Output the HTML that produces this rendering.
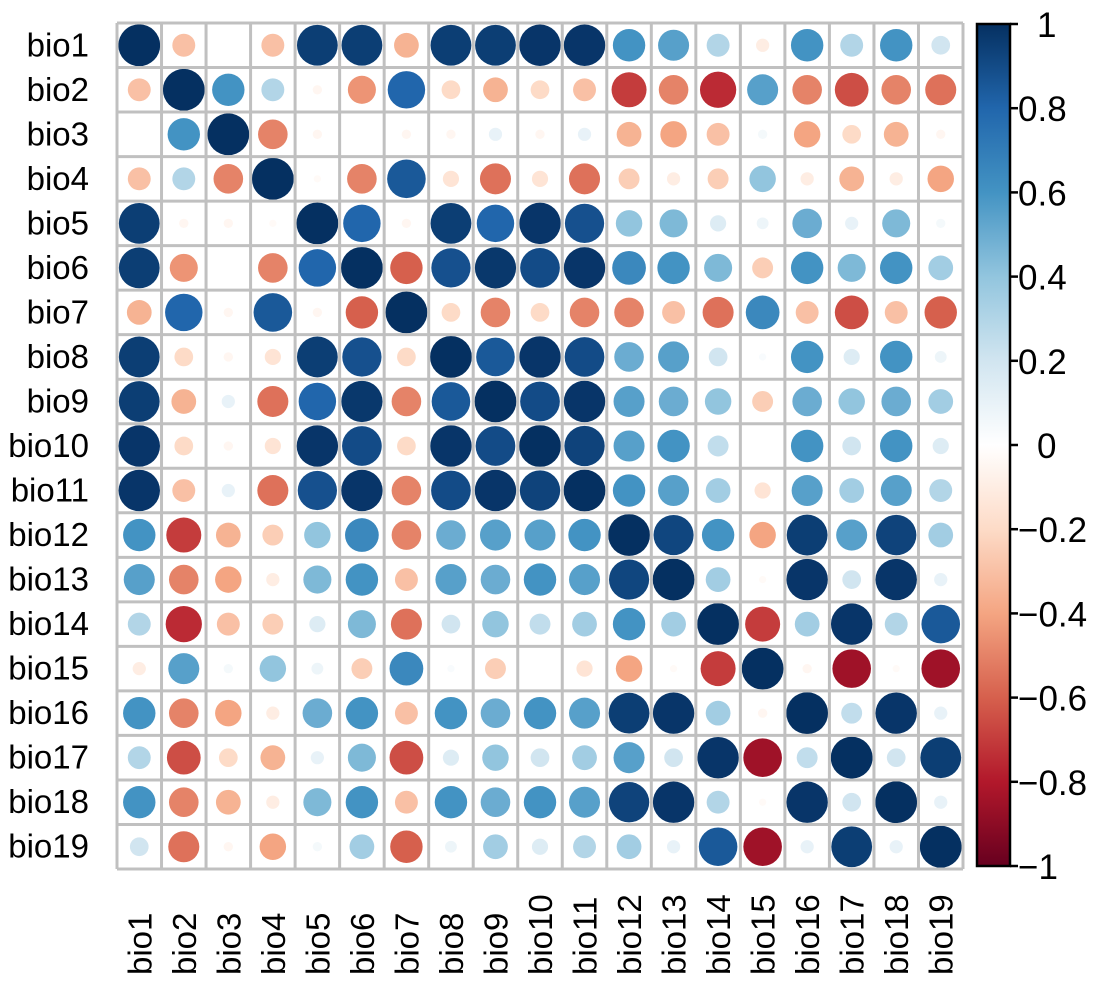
<!DOCTYPE html>
<html><head><meta charset="utf-8"><style>
body{margin:0;background:#fff;}
svg{display:block;font-family:"Liberation Sans",Arial,sans-serif;}
</style></head><body>
<svg id="chart" width="1098" height="987"></svg>
<script>
const labels=["bio1","bio2","bio3","bio4","bio5","bio6","bio7","bio8","bio9","bio10","bio11","bio12","bio13","bio14","bio15","bio16","bio17","bio18","bio19"];
const upper=[
[1,-0.3,0,-0.3,0.95,0.95,-0.35,0.95,0.95,0.98,0.98,0.6,0.55,0.3,-0.1,0.6,0.3,0.6,0.2],
[1,0.6,0.3,-0.05,-0.45,0.8,-0.2,-0.35,-0.2,-0.3,-0.7,-0.5,-0.75,0.55,-0.5,-0.65,-0.5,-0.55],
[1,-0.5,-0.05,0,-0.05,-0.05,0.1,-0.05,0.1,-0.35,-0.4,-0.3,0.05,-0.4,-0.2,-0.35,-0.05],
[1,-0.03,-0.5,0.85,-0.15,-0.55,-0.15,-0.55,-0.25,-0.1,-0.25,0.4,-0.1,-0.35,-0.1,-0.4],
[1,0.8,-0.05,0.95,0.8,0.98,0.88,0.4,0.45,0.15,0.08,0.5,0.1,0.45,0.05],
[1,-0.6,0.88,0.97,0.9,0.98,0.65,0.6,0.45,-0.25,0.6,0.45,0.6,0.35],
[1,-0.2,-0.5,-0.2,-0.5,-0.5,-0.3,-0.55,0.65,-0.3,-0.65,-0.3,-0.6],
[1,0.85,0.98,0.9,0.5,0.55,0.2,0.03,0.6,0.15,0.6,0.08],
[1,0.9,0.98,0.55,0.5,0.4,-0.25,0.5,0.4,0.5,0.35],
[1,0.93,0.55,0.6,0.25,0,0.6,0.2,0.6,0.15],
[1,0.6,0.55,0.35,-0.15,0.55,0.35,0.55,0.3],
[1,0.92,0.6,-0.4,0.95,0.55,0.93,0.35],
[1,0.35,-0.03,0.98,0.2,0.98,0.1],
[1,-0.7,0.35,0.98,0.3,0.85],
[1,-0.05,-0.85,-0.03,-0.85],
[1,0.25,0.98,0.1],
[1,0.2,0.95],
[1,0.1],
[1]];
const ticks=[1,0.8,0.6,0.4,0.2,0,-0.2,-0.4,-0.6,-0.8,-1];
const tickText=["1","0.8","0.6","0.4","0.2","0","\u22120.2","\u22120.4","\u22120.6","\u22120.8","\u22121"];

const NS="http://www.w3.org/2000/svg";
const svg=document.getElementById('chart');
const n=labels.length, gx0=117, gy0=23, cell=(963-117)/19;
const stops=[[-1,"#67001F"],[-0.8,"#B2182B"],[-0.6,"#D6604D"],[-0.4,"#F4A582"],[-0.2,"#FDDBC7"],[0,"#FFFFFF"],[0.2,"#D1E5F0"],[0.4,"#92C5DE"],[0.6,"#4393C3"],[0.8,"#2166AC"],[1,"#053061"]];
function hex(h){return [1,3,5].map(i=>parseInt(h.substr(i,2),16));}
function color(v){for(let i=0;i<stops.length-1;i++){const a=stops[i],b=stops[i+1];if(v>=a[0]&&v<=b[0]){const t=(v-a[0])/(b[0]-a[0]);const A=hex(a[1]),B=hex(b[1]);return "rgb("+A.map((c,k)=>Math.round(c+(B[k]-c)*t)).join(",")+")";}}return v<0?stops[0][1]:stops[10][1];}
function val(i,j){return i<=j?upper[i][j-i]:upper[j][i-j];}
function mk(tag,attrs){const e=document.createElementNS(NS,tag);for(const k in attrs)e.setAttribute(k,attrs[k]);svg.appendChild(e);return e;}
const xS=j=>gx0+cell*(j+0.5), yS=i=>gy0+cell*(i+0.5);
for(let i=0;i<n;i++)for(let j=0;j<n;j++){
 const v=val(i,j);
 const c=mk('circle',{cx:xS(j),cy:yS(i),r:Math.sqrt(Math.abs(v))*cell*0.47,fill:color(v)});
 
 
}
for(let k=0;k<=n;k++){
 const a=mk('line',{x1:gx0+cell*k,x2:gx0+cell*k,y1:gy0,y2:gy0+cell*n,stroke:"#c0c0c0","stroke-width":3});
 
 const b=mk('line',{y1:gy0+cell*k,y2:gy0+cell*k,x1:gx0,x2:gx0+cell*n,stroke:"#c0c0c0","stroke-width":3});
 
}
labels.forEach((l,i)=>{
 const t=mk('text',{x:89,y:yS(i)+11,"text-anchor":"end","font-size":33});t.textContent=l;
 
 const u=mk('text',{x:0,y:0,"text-anchor":"start","font-size":33,transform:`translate(${xS(i)+12},975) rotate(-90)`});u.textContent=l;
 
});
// colorbar
const by0=24,by1=866,bx0=977,bx1=1010;
const defs=mk('defs',{});
const g=document.createElementNS(NS,'linearGradient');g.setAttribute('id','cb');g.setAttribute('x1','0');g.setAttribute('y1','0');g.setAttribute('x2','0');g.setAttribute('y2','1');
defs.appendChild(g);
for(let k=stops.length-1;k>=0;k--){const s=document.createElementNS(NS,'stop');s.setAttribute('offset',((1-stops[k][0])/2*100)+'%');s.setAttribute('stop-color',stops[k][1]);g.appendChild(s);}
const bar=mk('rect',{x:bx0,y:by0,width:bx1-bx0,height:by1-by0,fill:"url(#cb)",stroke:"#000","stroke-width":2.5});

const cy=v=>by0+(1-v)/2*(by1-by0);
ticks.forEach((v,k)=>{
 const tl=mk('line',{x1:bx1,x2:bx1+8,y1:cy(v),y2:cy(v),stroke:"#000","stroke-width":2.5});
 
 const s=tickText[k];const x=(s==="1"||s==="0")?1037:1018;
 const t=mk('text',{x:x,y:cy(v)+13,"font-size":35});t.textContent=s;
 
});
</script>
</body></html>
